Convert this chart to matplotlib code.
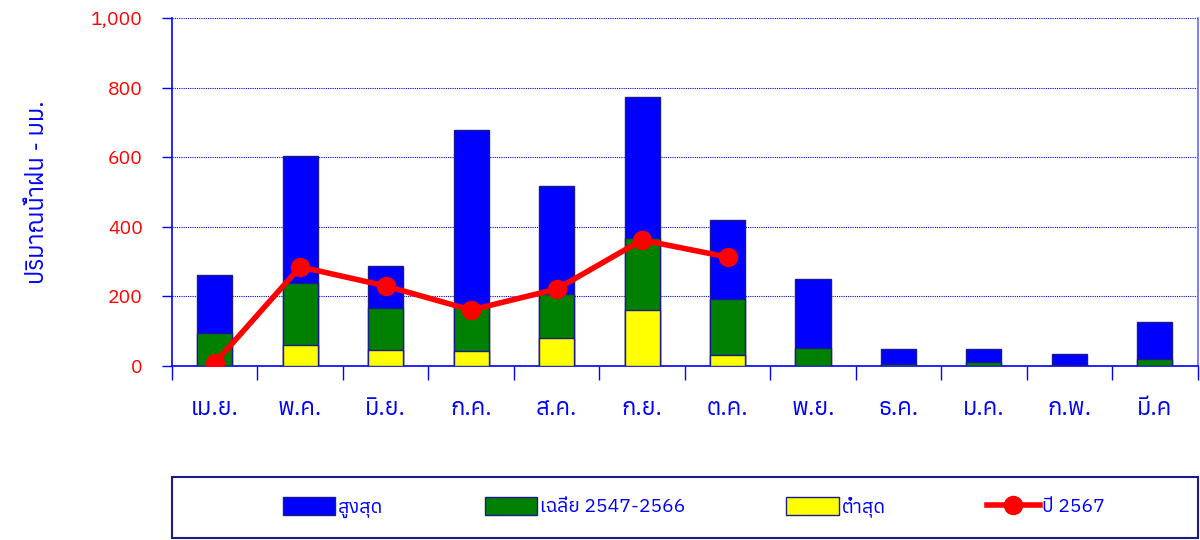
import matplotlib
matplotlib.use("Agg")
import matplotlib.pyplot as plt
from matplotlib import font_manager as fm
from matplotlib.ft2font import FT2Font
from matplotlib.lines import Line2D
from matplotlib.patches import Patch, Rectangle
import numpy as np

# find a font with Thai glyphs
thai_fams = []
for f in fm.fontManager.ttflist:
    try:
        cm = FT2Font(f.fname).get_charmap()
        if 0x0E01 in cm and 0x0E33 in cm:
            thai_fams.append(f.name)
    except Exception:
        pass
thai_fams = sorted(set(thai_fams))
plt.rcParams['font.family'] = thai_fams[:1] + ['DejaVu Sans']

months = ['เม.ย.', 'พ.ค.', 'มิ.ย.', 'ก.ค.', 'ส.ค.', 'ก.ย.', 'ต.ค.', 'พ.ย.', 'ธ.ค.', 'ม.ค.', 'ก.พ.', 'มี.ค']
max_vals = [261, 603, 287, 678, 517, 773, 420, 250, 49, 48, 34, 126]
avg_vals = [95, 238, 167, 172, 207, 368, 193, 52, 5, 11, 4, 20]
min_vals = [0, 60, 46, 43, 80, 160, 31, 0, 0, 0, 0, 0]
y2567 = [8, 285, 230, 161, 221, 362, 313, None, None, None, None, None]
labels = ['สูงสุด', 'เฉลี่ย 2547-2566', 'ต่ำสุด', 'ปี 2567']

fig = plt.figure(figsize=(12, 5.4), dpi=100)
ax = fig.add_axes([0.1433, 0.3222, 0.8547, 0.6445])
x = np.arange(len(months))
w = 0.41
ec = '#1a1a8c'
ax.bar(x, max_vals, w, color='#0000ff', edgecolor=ec, linewidth=1, zorder=2)
ax.bar(x, avg_vals, w, color='#008000', edgecolor=ec, linewidth=1, zorder=3)
ax.bar(x, min_vals, w, color='#ffff00', edgecolor=ec, linewidth=1, zorder=4)
yv = np.array([np.nan if v is None else v for v in y2567], dtype=float)
ax.plot(x, yv, color='#ff0000', lw=4, marker='o', ms=13, zorder=5, solid_capstyle='round')

ax.set_xlim(-0.5, 11.5)
ax.set_ylim(0, 1000)
ax.set_yticks(range(0, 1001, 200))
ax.set_yticklabels([f'{v:,}' for v in range(0, 1001, 200)])
ax.tick_params(axis='y', colors='#0000ff', labelcolor='#ff0000', labelsize=14, length=7, width=1, direction='out', pad=14)
ax.set_xticks(x)
ax.set_xticklabels(months)
ax.tick_params(axis='x', length=0, labelsize=17, labelcolor='#0000ff', pad=22)
ax.set_xticks(np.arange(-0.5, 12, 1), minor=True)
ax.tick_params(axis='x', which='minor', length=10, color='#0000ff', width=1, direction='out')
ax.grid(axis='y', color='#0000ff', linestyle=(0, (1, 1)), linewidth=0.8, zorder=0)
ax.set_axisbelow(True)
for s in ['left', 'bottom', 'right']:
    ax.spines[s].set_color('#0000ff')
    ax.spines[s].set_linewidth(1.2)
ax.spines['right'].set_color('#6666ff')
ax.spines['top'].set_visible(False)
ax.set_ylabel('ปริมาณน้ำฝน - มม.', color='#0000ff', fontsize=17, labelpad=30)

# legend frame
fig.add_artist(Rectangle((172 / 1200, 1 - 538 / 540), 1026 / 1200, 61 / 540,
                         transform=fig.transFigure, facecolor='white',
                         edgecolor='#1a1a8c', linewidth=1.5, zorder=1))
handles = [Patch(facecolor='#0000ff', edgecolor=ec), Patch(facecolor='#008000', edgecolor=ec),
           Patch(facecolor='#ffff00', edgecolor=ec),
           Line2D([], [], color='#ff0000', lw=4, marker='o', ms=13)]
leg = fig.legend(handles, labels, loc='center', bbox_to_anchor=(694 / 1200, 1 - 507 / 540),
                 ncol=4, fontsize=14, frameon=False,
                 handlelength=2.7, handleheight=1.0, handletextpad=0.15,
                 columnspacing=5.2, borderaxespad=0)
leg.set_zorder(2)
for t in leg.get_texts():
    t.set_color('#0000ff')

fig.savefig('out.png', dpi=100)
